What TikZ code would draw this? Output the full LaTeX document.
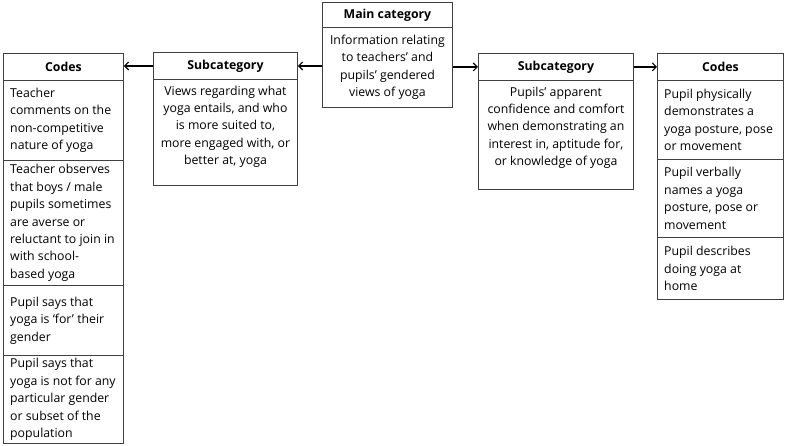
\documentclass[tikz,border=0pt]{standalone}
\usepackage{fontspec}
\setmainfont{Open Sans}
\usetikzlibrary{arrows.meta}
\begin{document}
\begin{tikzpicture}[x=1pt,y=-1pt,
  cell/.style={draw=black!75, line width=0.9pt, inner sep=0pt, anchor=north west},
  txt/.style={font=\fontsize{12.3}{17.4}\selectfont, inner sep=0pt, align=left, anchor=west},
  ctxt/.style={font=\fontsize{12.3}{17.4}\selectfont, inner sep=0pt, align=center},
  hdr/.style={font=\fontsize{12.3}{15}\selectfont\bfseries, inner sep=0pt},
  link/.style={-{Straight Barb[length=4pt,width=8pt]}, line width=1.1pt}
]
\useasboundingbox (0,0) rectangle (786,445);

% ---- Left codes column ----
\node[cell, minimum width=120pt, minimum height=27pt] (lch) at (3,53) {};
\node[cell, minimum width=120pt, minimum height=80pt] (lc1) at (3,80) {};
\node[cell, minimum width=120pt, minimum height=125pt] (lc2) at (3,160) {};
\node[cell, minimum width=120pt, minimum height=70pt] (lc3) at (3,285) {};
\node[cell, minimum width=120pt, minimum height=88pt] (lc4) at (3,355) {};
\node[hdr] (lcht) at (lch.center) {Codes};
\node[txt] (lc1t) at ([xshift=7pt]lc1.west) {Teacher\\comments on the\\non-competitive\\nature of yoga};
\node[txt] (lc2t) at ([xshift=7pt]lc2.west) {Teacher observes\\that boys / male\\pupils sometimes\\are averse or\\reluctant to join in\\with school-\\based yoga};
\node[txt] (lc3t) at ([xshift=7pt]lc3.west) {Pupil says that\\yoga is ‘for’ their\\gender};
\node[txt] (lc4t) at ([xshift=7pt]lc4.west) {Pupil says that\\yoga is not for any\\particular gender\\or subset of the\\population};

% ---- Left subcategory ----
\node[cell, minimum width=144pt, minimum height=27pt] (lsh) at (153,52) {};
\node[cell, minimum width=144pt, minimum height=106pt] (lsb) at (153,79) {};
\node[hdr] (lsht) at (lsh.center) {Subcategory};
\node[ctxt, anchor=north] (lsbt) at ([yshift=-6.5pt]lsb.north) {Views regarding what\\yoga entails, and who\\is more suited to,\\more engaged with, or\\better at, yoga};

% ---- Main category ----
\node[cell, minimum width=130pt, minimum height=25pt] (mh) at (322,2) {};
\node[cell, minimum width=130pt, minimum height=80pt] (mb) at (322,27) {};
\node[hdr] (mht) at (mh.center) {Main category};
\node[ctxt] (mbt) at (mb.center) {Information relating\\to teachers’ and\\pupils’ gendered\\views of yoga};

% ---- Right subcategory ----
\node[cell, minimum width=155pt, minimum height=27pt] (rsh) at (478,53) {};
\node[cell, minimum width=155pt, minimum height=109pt] (rsb) at (478,80) {};
\node[hdr] (rsht) at (rsh.center) {Subcategory};
\node[ctxt, anchor=north] (rsbt) at ([yshift=-6.5pt]rsb.north) {Pupils’ apparent\\confidence and comfort\\when demonstrating an\\interest in, aptitude for,\\or knowledge of yoga};

% ---- Right codes column ----
\node[cell, minimum width=126pt, minimum height=27pt] (rch) at (657,53) {};
\node[cell, minimum width=126pt, minimum height=79pt] (rc1) at (657,80) {};
\node[cell, minimum width=126pt, minimum height=78pt] (rc2) at (657,159) {};
\node[cell, minimum width=126pt, minimum height=62pt] (rc3) at (657,237) {};
\node[hdr] (rcht) at (rch.center) {Codes};
\node[txt] (rc1t) at ([xshift=7pt]rc1.west) {Pupil physically\\demonstrates a\\yoga posture, pose\\or movement};
\node[txt] (rc2t) at ([xshift=7pt]rc2.west) {Pupil verbally\\names a yoga\\posture, pose or\\movement};
\node[txt] (rc3t) at ([xshift=7pt]rc3.west) {Pupil describes\\doing yoga at\\home};

% ---- Connectors ----
\draw[link] (mb.west |- lsh.east) -- (lsh.east);
\draw[link] (lsh.west) -- (lsh.west -| lch.east);
\draw[link] (mb.east |- rsh.west) -- (rsh.west);
\draw[link] (rsh.east) -- (rch.west);
\end{tikzpicture}
\end{document}
